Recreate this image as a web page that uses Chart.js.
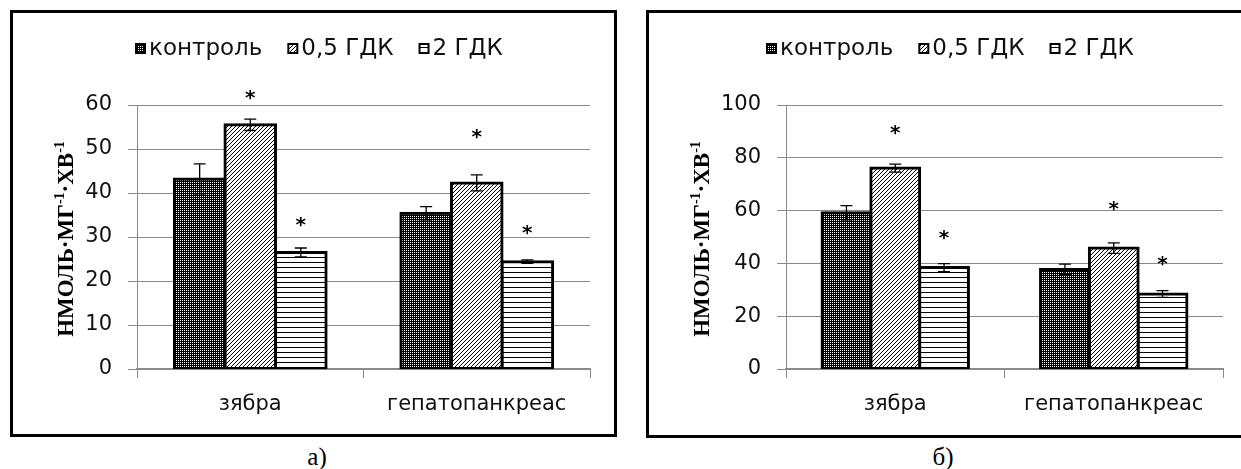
<!DOCTYPE html>
<html>
<head>
<meta charset="utf-8">
<script src="https://cdn.jsdelivr.net/npm/chart.js@4/dist/chart.umd.min.js"></script>
<style>
  html, body { margin: 0; padding: 0; background: #fff; width: 1241px; height: 469px; overflow: hidden; }
  body { position: relative; }
  .box { position: absolute; border: 3px solid #000; background: #fff; overflow: hidden; }
  #boxA { left: 10px; top: 10px; width: 601px; height: 421px; }
  #boxB { left: 646px; top: 10px; width: 640px; height: 422px; }
  .box canvas { display: block; }
  .cap { position: absolute; top: 443px; width: 60px; text-align: center;
         font: 25px "Liberation Serif", "Times New Roman", serif; line-height: 27px; color: #000; }
</style>
</head>
<body>
<div class="box" id="boxA"><canvas id="chartA" width="601" height="421"></canvas></div>
<div class="box" id="boxB"><canvas id="chartB" width="592" height="422"></canvas></div>
<div class="cap" style="left:287px">а)</div>
<div class="cap" style="left:913px">б)</div>

<script>
// ---- data ----
const categories = ['зябра', 'гепатопанкреас'];
const seriesNames = ['контроль', '0,5 ГДК', '2 ГДК'];
const axisTitleParts = [['НМОЛЬ·МГ', false], ['-1', true], ['·ХВ', false], ['-1', true]];

// panel а)
const aControl    = [43.2, 35.4];
const aHalf       = [55.5, 42.3];
const aTwo        = [26.5, 24.4];
const aControlErr = [3.4, 1.5];
const aHalfErr    = [1.3, 1.8];
const aTwoErr     = [1.0, 0.4];
const aHalfStar   = [62.3, 53.4];
const aTwoStar    = [33.4, 31.6];
const aTicks      = [0, 10, 20, 30, 40, 50, 60];

// panel б)
const bControl    = [59.2, 37.7];
const bHalf       = [76.1, 45.8];
const bTwo        = [38.4, 28.4];
const bControlErr = [2.7, 2.0];
const bHalfErr    = [1.5, 2.0];
const bTwoErr     = [1.5, 1.3];
const bHalfStar   = [90.5, 61.7];
const bTwoStar    = [50.8, 41.0];
const bTicks      = [0, 20, 40, 60, 80, 100];

// ---- fill patterns ----
function makeTile(kind) {
  const c = document.createElement('canvas');
  const size = kind === 'mesh' ? [2, 2] : kind === 'diag' ? [4, 4] : [4, 5];
  c.width = size[0];
  c.height = size[1];
  const g = c.getContext('2d');
  g.fillStyle = '#fff';
  g.fillRect(0, 0, c.width, c.height);
  g.fillStyle = '#000';
  if (kind === 'mesh') {
    g.fillRect(0, 0, 2, 1);
    g.fillRect(0, 1, 1, 1);
  } else if (kind === 'diag') {
    for (let x = 0; x < 4; x++) g.fillRect(x, 3 - x, 1, 1);
  } else {
    g.fillRect(0, 4, 4, 1);
  }
  return c;
}
const tiles = [makeTile('mesh'), makeTile('diag'), makeTile('hlines')];

const GRID = '#8a8a8a';
const SANS = '"DejaVu Sans", "Noto Sans", sans-serif';
const SERIF = '"Liberation Serif", "Times New Roman", serif';

// error bars drawn over each bar
const errorBarPlugin = {
  id: 'errorBars',
  afterDatasetsDraw(chart) {
    const ctx = chart.ctx, ys = chart.scales.y;
    const errs = chart.options.plugins.errorBars.errors;
    ctx.save();
    ctx.strokeStyle = '#000';
    ctx.lineWidth = 1.3;
    chart.data.datasets.forEach((ds, i) => {
      const meta = chart.getDatasetMeta(i);
      meta.data.forEach((bar, j) => {
        const v = ds.data[j], e = errs[i][j];
        const yt = ys.getPixelForValue(v + e), yb = ys.getPixelForValue(v - e);
        ctx.beginPath();
        ctx.moveTo(bar.x, yt); ctx.lineTo(bar.x, yb);
        ctx.moveTo(bar.x - 6, yt); ctx.lineTo(bar.x + 6, yt);
        ctx.moveTo(bar.x - 6, yb); ctx.lineTo(bar.x + 6, yb);
        ctx.stroke();
      });
    });
    ctx.restore();
  }
};

// significance asterisks
const starPlugin = {
  id: 'stars',
  afterDatasetsDraw(chart) {
    const ctx = chart.ctx, ys = chart.scales.y;
    const stars = chart.options.plugins.stars.at;
    ctx.save();
    ctx.fillStyle = '#000';
    ctx.font = 'bold 20px ' + SANS;
    ctx.textAlign = 'center';
    ctx.textBaseline = 'alphabetic';
    const m = ctx.measureText('*');
    const mid = (m.actualBoundingBoxAscent - m.actualBoundingBoxDescent) / 2;
    stars.forEach((arr, i) => {
      if (!arr) return;
      const meta = chart.getDatasetMeta(i);
      arr.forEach((s, j) => {
        if (s == null) return;
        ctx.fillText('*', meta.data[j].x, ys.getPixelForValue(s) + mid);
      });
    });
    ctx.restore();
  }
};

// legend row with patterned swatches
const legendPlugin = {
  id: 'patternLegend',
  afterDraw(chart) {
    const o = chart.options.plugins.patternLegend;
    const ctx = chart.ctx;
    ctx.save();
    ctx.font = '23px ' + SANS;
    const box = 11, gap = 3, spacing = 25;
    const widths = seriesNames.map(n => ctx.measureText(n).width);
    const total = widths.reduce((s, w) => s + box + gap + w, 0) + spacing * (seriesNames.length - 1);
    let x = Math.round(chart.width / 2 + o.shift - total / 2);
    const y = o.y;
    seriesNames.forEach((name, i) => {
      ctx.fillStyle = '#000';
      ctx.fillRect(x, y - box / 2, box, box);
      ctx.fillStyle = chart.data.datasets[i].backgroundColor;
      ctx.fillRect(x + 2, y - box / 2 + 2, box - 4, box - 4);
      ctx.fillStyle = '#111';
      ctx.textAlign = 'left';
      ctx.textBaseline = 'middle';
      ctx.fillText(name, x + box + gap, y + 1);
      x += box + gap + widths[i] + spacing;
    });
    ctx.restore();
  }
};

// rotated y-axis title with superscripts
const yTitlePlugin = {
  id: 'yTitle',
  afterDraw(chart) {
    const ctx = chart.ctx, ca = chart.chartArea;
    const base = 'bold 23px ' + SERIF, sup = 'bold 14px ' + SERIF;
    ctx.save();
    ctx.fillStyle = '#000';
    let total = 0;
    const w = axisTitleParts.map(([t, s]) => { ctx.font = s ? sup : base; const v = ctx.measureText(t).width; total += v; return v; });
    ctx.translate(chart.options.plugins.yTitle.x, (ca.top + ca.bottom) / 2 + 2);
    ctx.rotate(-Math.PI / 2);
    ctx.textBaseline = 'alphabetic';
    ctx.textAlign = 'left';
    let x = -total / 2;
    axisTitleParts.forEach(([t, s], i) => {
      ctx.font = s ? sup : base;
      ctx.fillText(t, x, s ? -9 : 0);
      x += w[i];
    });
    ctx.restore();
  }
};

function buildChart(id, vals, errs, stars, ticks, geom) {
  const ctx = document.getElementById(id).getContext('2d');
  const datasets = vals.map((v, i) => ({
    label: seriesNames[i],
    data: v,
    backgroundColor: ctx.createPattern(tiles[i], 'repeat'),
    borderColor: '#000',
    borderWidth: 3,
    borderSkipped: false,
    inflateAmount: 1.5,
    categoryPercentage: 0.67,
    barPercentage: 1.0
  }));
  return new Chart(ctx, {
    type: 'bar',
    data: { labels: categories, datasets },
    options: {
      responsive: false,
      animation: false,
      events: [],
      layout: { padding: { top: 92, right: geom.right, left: 0, bottom: 0 } },
      plugins: {
        legend: { display: false },
        tooltip: { enabled: false },
        errorBars: { errors: errs },
        stars: { at: stars },
        patternLegend: { y: 35.5, shift: 5 },
        yTitle: { x: 60 }
      },
      scales: {
        x: {
          offset: true,
          grid: { display: true, drawOnChartArea: false, drawTicks: true, tickLength: 9, color: GRID, offset: true },
          border: { display: true, color: GRID, width: 2 },
          ticks: { font: { family: SANS, size: 21 }, color: '#111', padding: 14, maxRotation: 0, autoSkip: false },
          afterFit(s) { s.height = geom.xh; }
        },
        y: {
          min: ticks[0],
          max: ticks[ticks.length - 1],
          afterBuildTicks(s) { s.ticks = ticks.map(v => ({ value: v })); },
          grid: { color: GRID, lineWidth: 1, drawTicks: true, tickLength: 9 },
          border: { display: true, color: GRID, width: 1 },
          ticks: { font: { family: SANS, size: 21 }, color: '#111', padding: 16 },
          afterFit(s) { s.width = geom.yw; }
        }
      }
    },
    plugins: [errorBarPlugin, starPlugin, legendPlugin, yTitlePlugin]
  });
}

buildChart('chartA',
  [aControl, aHalf, aTwo],
  [aControlErr, aHalfErr, aTwoErr],
  [null, aHalfStar, aTwoStar],
  aTicks,
  { right: 24, yw: 124, xh: 65 });

buildChart('chartB',
  [bControl, bHalf, bTwo],
  [bControlErr, bHalfErr, bTwoErr],
  [null, bHalfStar, bTwoStar],
  bTicks,
  { right: 18, yw: 137, xh: 66 });
</script>
</body>
</html>
